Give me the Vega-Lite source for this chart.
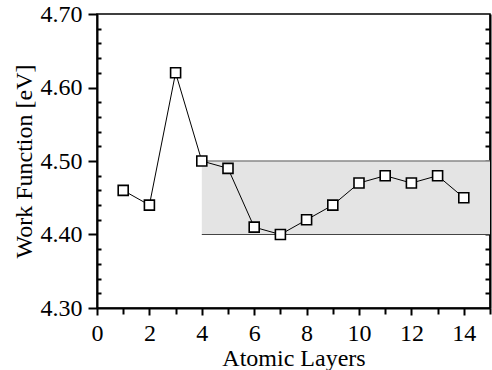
{
  "$schema": "https://vega.github.io/schema/vega-lite/v6.json",
  "autosize": {"type": "none"},
  "width": 393,
  "height": 294,
  "padding": {"left": 97, "top": 14, "right": 2, "bottom": 62},
  "background": "white",
  "config": {
    "view": {"stroke": "black", "strokeWidth": 1.5},
    "font": "Liberation Serif"
  },
  "datasets": {
    "wf": [
      {"layers": 1, "wf": 4.46},
      {"layers": 2, "wf": 4.44},
      {"layers": 3, "wf": 4.62},
      {"layers": 4, "wf": 4.50},
      {"layers": 5, "wf": 4.49},
      {"layers": 6, "wf": 4.41},
      {"layers": 7, "wf": 4.40},
      {"layers": 8, "wf": 4.42},
      {"layers": 9, "wf": 4.44},
      {"layers": 10, "wf": 4.47},
      {"layers": 11, "wf": 4.48},
      {"layers": 12, "wf": 4.47},
      {"layers": 13, "wf": 4.48},
      {"layers": 14, "wf": 4.45}
    ],
    "band": [{"x0": 4, "x1": 15, "lo": 4.40, "hi": 4.50}]
  },
  "resolve": {"axis": {"x": "independent", "y": "independent"}},
  "layer": [
    {
      "data": {"name": "band"},
      "mark": {"type": "rect", "fill": "#e4e4e4", "stroke": null},
      "encoding": {
        "x": {"field": "x0", "type": "quantitative", "scale": {"domain": [0, 15], "nice": false, "zero": false},
              "axis": {"orient": "bottom", "values": [0,2,4,6,8,10,12,14], "grid": false, "domainColor": "black", "domainWidth": 2, "tickColor": "black", "tickSize": 7, "tickWidth": 2, "labelFont": "Liberation Serif", "labelFontSize": 24, "labelColor": "black", "labelPadding": 6, "labelFlush": false, "labelOverlap": false, "title": "Atomic Layers", "titleFont": "Liberation Serif", "titleFontSize": 24, "titleFontWeight": "normal", "titleColor": "black", "titlePadding": 1}},
        "x2": {"field": "x1"},
        "y": {"field": "lo", "type": "quantitative", "scale": {"domain": [4.3, 4.7], "nice": false, "zero": false},
              "axis": {"orient": "left", "values": [4.3, 4.4, 4.5, 4.6, 4.7], "format": ".2f", "grid": false, "domainColor": "black", "domainWidth": 2, "tickColor": "black", "tickSize": 9, "tickWidth": 2, "labelFont": "Liberation Serif", "labelFontSize": 24, "labelColor": "black", "labelPadding": 6, "labelFlush": false, "labelOverlap": false, "title": "Work Function [eV]", "titleFont": "Liberation Serif", "titleFontSize": 24, "titleFontWeight": "normal", "titleColor": "black", "titlePadding": 4}},
        "y2": {"field": "hi"}
      }
    },
    {
      "data": {"name": "band"},
      "mark": {"type": "rule", "color": "#888888", "strokeWidth": 1.5},
      "encoding": {
        "x": {"field": "x0", "type": "quantitative",
              "axis": {"orient": "bottom", "values": [1,3,5,7,9,11,13,15], "grid": false, "domain": false, "tickColor": "black", "tickSize": 6, "tickWidth": 2, "labels": false, "title": null}},
        "x2": {"field": "x1"},
        "y": {"field": "hi", "type": "quantitative",
              "axis": {"orient": "left", "values": [4.32,4.34,4.36,4.38,4.42,4.44,4.46,4.48,4.52,4.54,4.56,4.58,4.62,4.64,4.66,4.68], "grid": false, "tickColor": "black", "tickSize": -4, "tickWidth": 2, "labels": false, "domain": false, "title": null}}
      }
    },
    {
      "data": {"name": "band"},
      "mark": {"type": "rule", "color": "#444444", "strokeWidth": 1.2},
      "encoding": {
        "x": {"field": "x0", "type": "quantitative", "axis": null},
        "x2": {"field": "x1"},
        "y": {"field": "lo", "type": "quantitative",
              "axis": {"orient": "right", "values": [4.32,4.34,4.36,4.38,4.4,4.42,4.44,4.46,4.48,4.5,4.52,4.54,4.56,4.58,4.6,4.62,4.64,4.66,4.68], "grid": false, "domainColor": "black", "domainWidth": 2, "tickColor": "black", "tickSize": -5, "tickWidth": 2, "labels": false, "domain": true, "title": null}}
      }
    },
    {
      "data": {"name": "wf"},
      "mark": {"type": "line", "color": "black", "strokeWidth": 1},
      "encoding": {
        "x": {"field": "layers", "type": "quantitative", "axis": null},
        "y": {"field": "wf", "type": "quantitative", "axis": null}
      }
    },
    {
      "data": {"name": "wf"},
      "mark": {"type": "point", "shape": "square", "filled": true, "fill": "white", "stroke": "black", "strokeWidth": 1.6, "size": 100, "opacity": 1},
      "encoding": {
        "x": {"field": "layers", "type": "quantitative", "axis": null},
        "y": {"field": "wf", "type": "quantitative", "axis": null}
      }
    }
  ]
}
